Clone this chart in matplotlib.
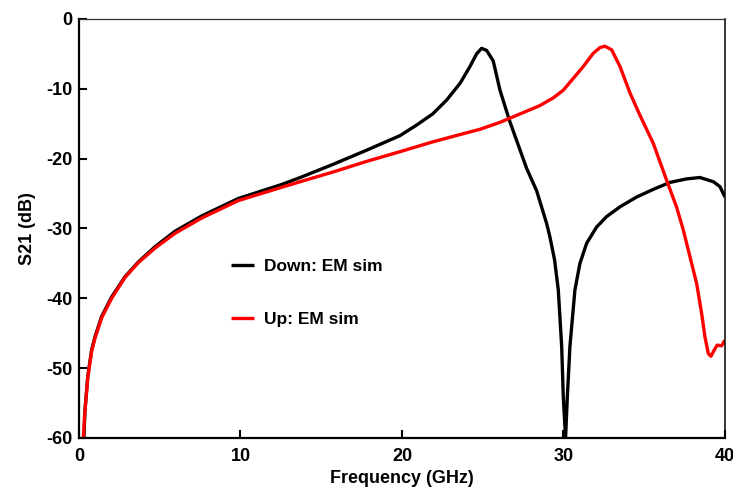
import matplotlib
matplotlib.use("Agg")
import matplotlib.pyplot as plt

# Down: EM sim (black)
down_f = [0.30, 0.37, 0.54, 0.78, 0.99, 1.40, 2.02, 2.85, 3.67, 4.71, 5.94, 7.6, 9.87, 12.55,
          13.7, 15.75, 17.8, 19.88, 20.9, 21.9, 22.77, 23.6, 24.21, 24.62, 24.93, 25.24,
          25.65, 26.07, 26.65, 27.1, 27.72, 28.34, 28.96, 29.16, 29.45, 29.68, 29.89, 29.99,
          30.13, 30.24, 30.4, 30.71, 31.02, 31.44, 32.05, 32.67, 33.5, 34.53, 35.56, 36.6,
          37.63, 38.45, 39.28, 39.69, 40.0]
down_db = [-60, -56.0, -51.2, -47.4, -45.5, -42.6, -39.8, -36.9, -34.8, -32.6, -30.4, -28.2,
           -25.7, -23.7, -22.7, -20.8, -18.8, -16.7, -15.2, -13.6, -11.6, -9.2, -6.8, -5.0,
           -4.2, -4.5, -6.0, -10.2, -14.5, -17.4, -21.4, -24.6, -29.3, -31.2, -34.5, -38.8,
           -46.9, -54.1, -60, -54.1, -46.9, -38.8, -35.0, -32.1, -29.8, -28.3, -26.9, -25.5,
           -24.4, -23.4, -22.9, -22.7, -23.3, -24.0, -25.5]

# Up: EM sim (red)
up_f = [0.27, 0.34, 0.54, 0.78, 0.99, 1.40, 2.02, 2.85, 3.67, 4.71, 5.94, 7.6, 9.87, 12.55,
        13.7, 15.75, 17.8, 19.88, 21.9, 24.0, 24.83, 26.07, 26.69, 28.13, 28.54, 29.37,
        29.99, 30.61, 31.23, 31.85, 32.26, 32.57, 32.98, 33.5, 34.12, 34.74, 35.56, 36.39,
        37.0, 37.42, 37.83, 38.25, 38.56, 38.76, 38.97, 39.13, 39.34, 39.52, 39.79, 40.0]
up_db = [-60, -57.0, -51.4, -47.6, -45.7, -42.8, -40.0, -37.0, -34.9, -32.8, -30.7, -28.5,
         -26.0, -24.1, -23.3, -21.9, -20.4, -19.0, -17.6, -16.3, -15.8, -14.8, -14.2, -12.8,
         -12.4, -11.3, -10.2, -8.5, -6.8, -4.9, -4.1, -3.9, -4.4, -6.8, -10.6, -13.8, -17.8,
         -23.1, -26.9, -30.2, -34.0, -37.9, -42.2, -45.5, -47.9, -48.3, -47.4, -46.7, -46.8,
         -46.0]

x_ticks = [0, 10, 20, 30, 40]
y_ticks = [0, -10, -20, -30, -40, -50, -60]

plt.rcParams['font.family'] = ['Liberation Sans', 'DejaVu Sans']
plt.rcParams['font.weight'] = 'bold'
plt.rcParams['axes.unicode_minus'] = False

fig = plt.figure(figsize=(7.33, 4.93), dpi=100)
ax = fig.add_axes([0.1078, 0.1116, 0.8812, 0.8499])

ax.plot(down_f, down_db, color='black', lw=2.4, label='Down: EM sim',
        solid_joinstyle='round', solid_capstyle='butt')
ax.plot(up_f, up_db, color='#ff0000', lw=2.4, label='Up: EM sim',
        solid_joinstyle='round', solid_capstyle='butt')

ax.set_xlim(0, 40)
ax.set_ylim(-60, 0)
ax.set_xticks(x_ticks)
ax.set_yticks(y_ticks)
ax.tick_params(direction='in', length=6, width=1.5, labelsize=13, top=False, right=False)
ax.tick_params(axis='x', pad=7)
ax.tick_params(axis='y', pad=5)
for lab in ax.get_xticklabels() + ax.get_yticklabels():
    lab.set_fontweight('bold')

ax.spines['left'].set_linewidth(1.6)
ax.spines['bottom'].set_linewidth(1.6)
ax.spines['top'].set_linewidth(0.9)
ax.spines['right'].set_linewidth(1.1)
ax.spines['top'].set_color('#333333')

ax.set_xlabel('Frequency (GHz)', fontsize=13, fontweight='bold', labelpad=4)
ax.set_ylabel('S21 (dB)', fontsize=13, fontweight='bold', labelpad=7)

leg = ax.legend(loc='upper left', bbox_to_anchor=(0.211, 0.465), frameon=False,
                fontsize=12.5, handlelength=1.35, labelspacing=2.2, handletextpad=0.55)
for t in leg.get_texts():
    t.set_fontweight('bold')

fig.savefig('out.png', dpi=100)
